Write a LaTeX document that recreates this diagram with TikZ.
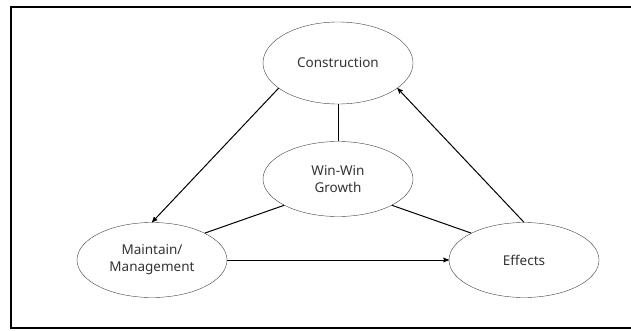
\documentclass[tikz,border=0pt]{standalone}
\usepackage{fontspec}
\setmainfont{Noto Sans}
\usepackage{tikz}
\usetikzlibrary{arrows,shapes.geometric}

\begin{document}
\begin{tikzpicture}[x=1pt,y=1pt,->,>=stealth',semithick,
                    font=\fontsize{13.5}{17}\selectfont]
	\tikzstyle{bubble}=[ellipse,draw=black!75,thin,text=black!80,align=center,
	                    minimum width=150pt,minimum height=75pt,inner sep=0pt]
	\tikzstyle{tie}=[-,line width=1pt]
	\useasboundingbox (0,0) rectangle (631,330);
	\draw[-,line width=1.8pt] (11,2) rectangle (645,323);

	\node[bubble] (C) at (338,267) [minimum height=82pt] {Construction};
	\node[bubble] (W) at (338,151)                       {Win-Win \\ Growth};
	\node[bubble] (M) at (152,70)                        {Maintain/ \\ Management};
	\node[bubble] (E) at (524,70)                        {Effects};

	\path (C.203) edge [line width=1pt] (M.90)
				(E.90)  edge [line width=1pt] (C.337)
				(M.0)   edge [line width=1pt] (E.180)
				(C.270) edge [tie] (W.90)
				(W.206) edge [tie] (M.27)
				(W.334) edge [tie] (E.153);
\end{tikzpicture}
\end{document}
